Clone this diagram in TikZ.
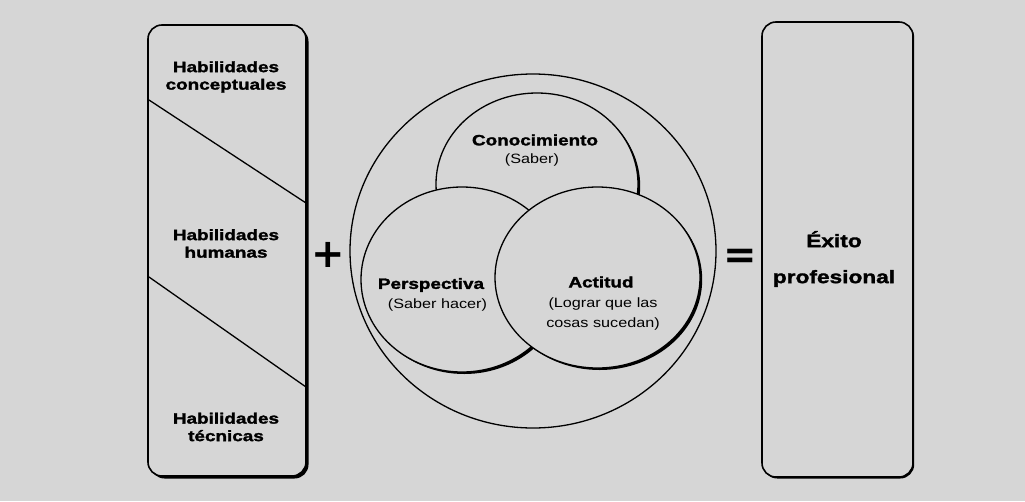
\documentclass[tikz,border=0pt]{standalone}
\usepackage{fontspec}
\usetikzlibrary{shapes.geometric,shadows}
\newfontfamily\hb{Liberation Sans Bold}[FakeStretch=1.26,FakeBold=1.8]
\newfontfamily\hbx{Liberation Sans Bold}[FakeStretch=1.26,FakeBold=1.8]
\newfontfamily\rf{Liberation Sans}[FakeStretch=1.2]
\newfontfamily\symf{DejaVu Sans Bold}
\definecolor{paper}{gray}{0.84}
\begin{document}
\begin{tikzpicture}[x=1pt,y=-1pt,
  box/.style={draw=black, line width=1.6pt, rounded corners=14pt, fill=paper, inner sep=0pt, outer sep=0pt},
  ring/.style={ellipse, draw=black, line width=1.3pt, fill=paper, inner sep=0pt, outer sep=0pt},
  shade/.style={drop shadow={fill=black, opacity=1, shadow xshift=2.5pt, shadow yshift=-2.5pt}},
  shadec/.style={drop shadow={fill=black, opacity=1, shadow xshift=2.2pt, shadow yshift=-2pt}},
  shadesm/.style={drop shadow={fill=black, opacity=1, shadow xshift=1.2pt, shadow yshift=-1.5pt}},
  split/.style={line width=1.3pt},
  lbl/.style={font=\hb\fontsize{15}{17.5}\selectfont, align=center, inner sep=0pt},
  big/.style={font=\hbx\fontsize{18}{36}\selectfont, align=center, inner sep=0pt},
  sub/.style={font=\rf\fontsize{13.5}{19.5}\selectfont, align=center, inner sep=0pt},
  op/.style={font=\symf\fontsize{40}{40}\selectfont, inner sep=0pt}]
\fill[paper] (0,0) rectangle (1025,501);
\useasboundingbox (0,0) rectangle (1025,501);
% left box
\node[box, shade, minimum width=158pt, minimum height=451pt] (hab) at (227,250.5) {};
\coordinate (d1a) at (149,100);
\coordinate (d1b) at (306,203);
\coordinate (d2a) at (149,277);
\coordinate (d2b) at (306,387);
\draw[split] (d1a) -- (d1b);
\draw[split] (d2a) -- (d2b);
\node[lbl] (hc) at (226,77) {Habilidades\\conceptuales};
\node[lbl] (hh) at (226,243.5) {Habilidades\\humanas};
\node[lbl] (ht) at (226,427) {Habilidades\\técnicas};
% plus
\node[op] (plus) at (328.5,254.5) {+};
% circles
\node[ring, minimum width=366pt, minimum height=354pt] (todo) at (533,251) {};
\node[ring, shadec, minimum width=202pt, minimum height=182pt] (con) at (537,184) {};
\node[ring, shadec, minimum width=202pt, minimum height=185pt] (per) at (462,279.5) {};
\node[ring, shadec, minimum width=205pt, minimum height=181pt] (act) at (597.5,277.5) {};
\node[lbl] (conT) at (535,140) {Conocimiento};
\node[sub] (conS) at (532,160) {(Saber)};
\node[lbl] (perT) at (431,285) {Perspectiva};
\node[sub] (perS) at (437.5,305) {(Saber hacer)};
\node[lbl] (actT) at (601,282) {Actitud};
\node[sub] (actS) at (603,314) {(Lograr que las\\cosas sucedan)};
% equals
\node[op] (eq) at (740,258.5) {=};
% right box
\node[box, shadesm, minimum width=151pt, minimum height=455pt] (exito) at (837.5,249.5) {};
\node[big] (exT) at (834,259) {Éxito\\profesional};
\end{tikzpicture}
\end{document}
